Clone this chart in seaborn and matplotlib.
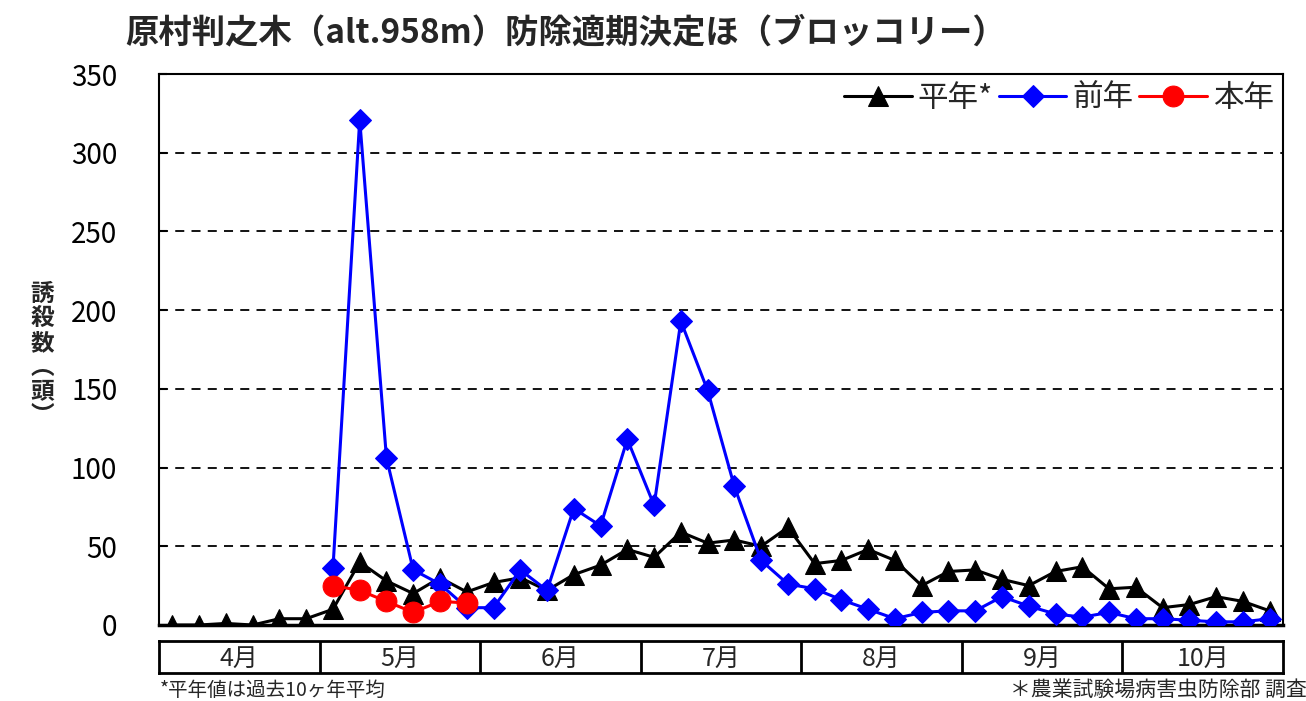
import seaborn as sns
import matplotlib.pyplot as plt
import numpy as np

# 半旬ごとの誘殺数（4月〜10月、各月6点）
months = ['4月', '5月', '6月', '7月', '8月', '9月', '10月']
heinen = [0, 0, 1, 0, 4, 4, 10, 40, 28, 20, 30, 21,
          27, 30, 22, 32, 38, 48, 43, 59, 52, 54, 50, 62,
          39, 41, 48, 41, 25, 34, 35, 29, 25, 34, 37, 23,
          24, 11, 13, 18, 15, 9]
zennen = [np.nan] * 6 + [36, 321, 106, 35, 26, 11,
          11, 35, 22, 74, 63, 118, 76, 193, 149, 88, 41, 26,
          23, 16, 10, 4, 8, 9, 9, 18, 12, 7, 5, 8,
          4, 4, 3, 2, 2, 4]
honnen = [np.nan] * 6 + [25, 22, 15, 8, 15, 14]
x = np.arange(len(heinen))

sns.set_style('white')
plt.rcParams['font.family'] = ['Noto Sans CJK JP', 'DejaVu Sans']

W, H = 1306, 701
fig = plt.figure(figsize=(W / 100, H / 100), dpi=100)
ax = fig.add_axes([159 / W, 1 - 625 / H, 1124 / W, 551 / H])

sns.lineplot(x=x, y=heinen, ax=ax, color='black', lw=2.2, marker='^',
             markersize=14, markeredgecolor='black', label='平年*', zorder=3)
sns.lineplot(x=x, y=zennen, ax=ax, color='#0000ff', lw=2.2, marker='D',
             markersize=11, markeredgecolor='#0000ff', label='前年', zorder=4)
sns.lineplot(x=x[:len(honnen)], y=honnen, ax=ax, color='#ff0000', lw=2.2, marker='o',
             markersize=15, markeredgecolor='#ff0000', label='本年', zorder=5)

ax.set_xlim(-0.5, len(heinen) - 0.5)
ax.set_ylim(0, 350)
ax.set_yticks(range(0, 351, 50))
ax.set_xticks([])
ax.tick_params(axis='y', labelsize=20, length=6, width=1.5, direction='in',
               pad=30, left=True, colors='black')
for v in range(50, 350, 50):
    ax.axhline(v, color='black', lw=1.3, ls=(0, (5, 4)), zorder=1)
for s in ax.spines.values():
    s.set_color('black')
    s.set_linewidth(1.5)
ax.spines['bottom'].set_linewidth(2.5)
ax.set_xlabel('')

ax.legend(loc='upper right', frameon=False, ncol=3, fontsize=22,
          handlelength=2.2, columnspacing=0.2, handletextpad=0.2,
          borderaxespad=0.1, borderpad=0.2)

# 月の表
tax = fig.add_axes([159 / W, 1 - 673 / H, 1124 / W, 32 / H])
tax.set_xlim(0, len(months))
tax.set_ylim(0, 1)
tax.set_xticks([])
tax.set_yticks([])
for s in tax.spines.values():
    s.set_color('black')
    s.set_linewidth(2)
for i, m in enumerate(months):
    tax.text(i + 0.5, 0.45, m, ha='center', va='center', fontsize=18)
    if i > 0:
        tax.axvline(i, color='black', lw=2)

fig.text(125 / W, 1 - 33 / H, '原村判之木（alt.958m）防除適期決定ほ（ブロッコリー）',
         fontsize=24, fontweight='bold', ha='left', va='center')
fig.text(42 / W, 1 - 355 / H, '\n'.join('誘殺数︵頭︶'), fontsize=17,
         fontweight='bold', ha='center', va='center', linespacing=1.02)
fig.text(160 / W, 1 - 690 / H, '*平年値は過去10ヶ年平均', fontsize=14,
         ha='left', va='center')
fig.text(1010 / W, 1 - 690 / H, '＊農業試験場病害虫防除部 調査', fontsize=15,
         ha='left', va='center')

fig.savefig('out.png', dpi=100)
